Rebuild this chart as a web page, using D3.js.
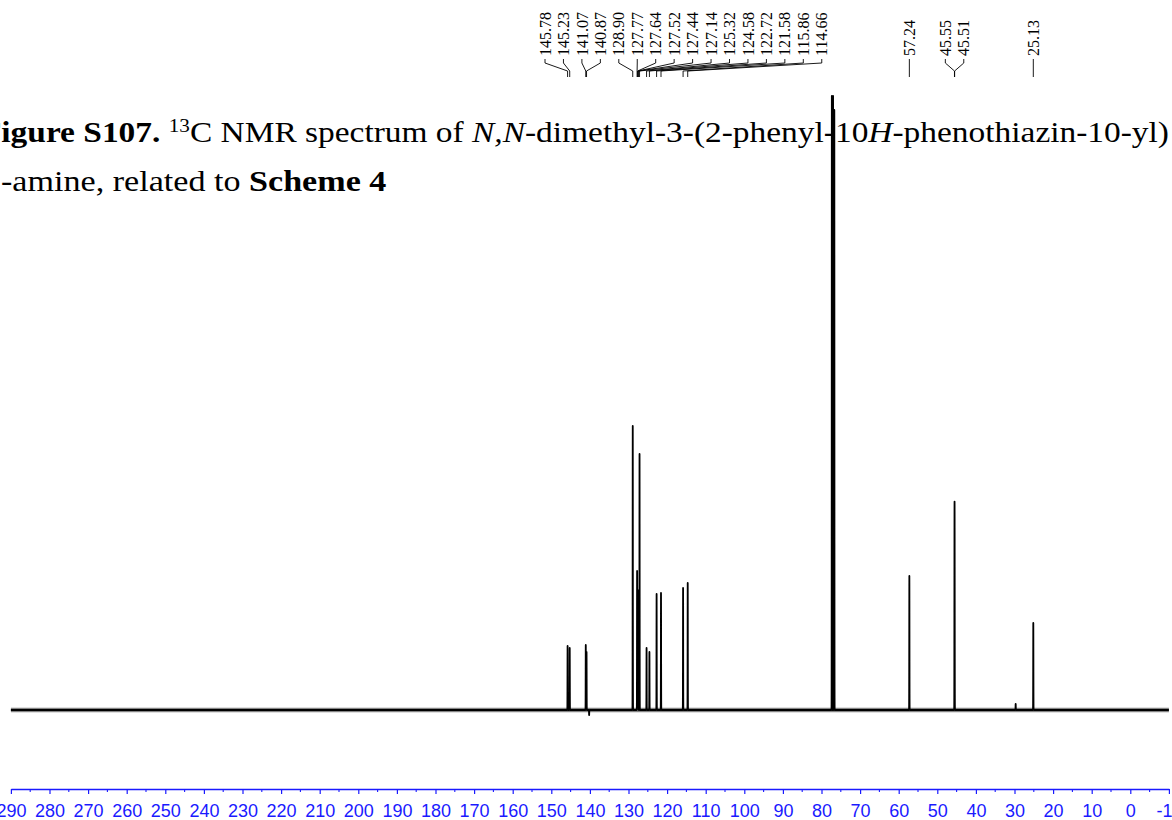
<!DOCTYPE html>
<html>
<head>
<meta charset="utf-8">
<script src="https://cdn.jsdelivr.net/npm/d3@7"></script>
<style>
html,body{margin:0;padding:0;background:#fff;overflow:hidden}
svg{display:block}
</style>
</head>
<body>
<svg id="chart" width="1172" height="820"></svg>
<script>
// ---------------- DATA ----------------
// peak positions (ppm) and heights (arbitrary intensity units)
const peakShifts  = [145.78, 145.23, 141.07, 140.87, 140.20, 128.90, 127.77, 127.64, 127.52, 127.44, 127.14,
                     125.32, 124.58, 122.72, 121.58, 115.86, 114.66, 77.32, 77.00, 76.68,
                     57.24, 45.55, 45.51, 29.70, 25.13];
const peakHeights = [64, 62, 65, 58, -5, 284, 139, 120, 110, 100, 256,
                     62, 58, 116, 117, 122, 127, 614, 614, 600,
                     134, 145, 142, 6, 87];
const noiseLevel = 2.2;   // half-height of the baseline noise band

// peak-pick labels (as printed) and their label groups
const labelGroupA = ["145.78","145.23","141.07","140.87","128.90","127.77","127.64","127.52","127.44","127.14",
                     "125.32","124.58","122.72","121.58","115.86","114.66"];
const labelGroupB = ["57.24"];
const labelGroupC = ["45.55","45.51"];
const labelGroupD = ["25.13"];

// axis ticks
const majorTicks = d3.range(290, -11, -10);
const minorTicks = d3.range(285, -10, -10);

// title text pieces
const titleLine1 = [
  {t:"Figure S107.", b:true}, {t:" "}, {t:"13", sup:true},
  {t:"C NMR spectrum of "}, {t:"N,N", i:true},
  {t:"-dimethyl-3-(2-phenyl-10"}, {t:"H", i:true}, {t:"-phenothiazin-10-yl)"}
];
const titleLine2 = [ {t:"-amine, related to "}, {t:"Scheme 4", b:true} ];

// ---------------- CHART ----------------
const svg = d3.select("#chart");

const x = d3.scaleLinear().domain([290, -10]).range([10.9, 1168.9]);
const y = d3.scaleLinear().domain([0, 614]).range([710, 96]);

// ---- title ----
const serif = "'Liberation Serif','Times New Roman',serif";
const titleSize = 30;
function buildLine(g, pieces, anchor){
  const t = g.append("text")
    .attr("font-family", serif).attr("font-size", titleSize).attr("fill", "#000")
    .attr("text-anchor", anchor);
  let prevSup = false;
  pieces.forEach(p => {
    const s = t.append("tspan").text(p.t);
    if (p.sup) { s.attr("font-size", 19).attr("dy", -10); }
    else if (prevSup) { s.attr("dy", 10); }
    if (p.b) s.attr("font-weight", "bold");
    if (p.i) s.attr("font-style", "italic");
    prevSup = !!p.sup;
  });
  return t;
}
// measure the clipped "F"
const tmp = svg.append("text").attr("font-family", serif).attr("font-size", titleSize)
  .attr("font-weight", "bold").text("F");
const wF = tmp.node().getComputedTextLength();
tmp.remove();

const g1 = svg.append("g");
const t1 = buildLine(g1, titleLine1, "end");
const W1 = t1.node().getComputedTextLength();
const sx1 = 1168 / (W1 - wF);
g1.attr("transform", `translate(1169,142) scale(${sx1},1)`);

const g2 = svg.append("g");
const t2 = buildLine(g2, titleLine2, "start");
const W2 = t2.node().getComputedTextLength();
const sx2 = 385.5 / W2;
g2.attr("transform", `translate(1,191) scale(${sx2},1)`);

// ---- spectrum ----
const sigma = 0.025;
function intensity(p){
  let s = 0;
  for (let i = 0; i < peakShifts.length; i++) {
    const z = (p - peakShifts[i]) / sigma;
    if (Math.abs(z) < 12) s += peakHeights[i] * Math.exp(-0.5 * z * z);
  }
  return s;
}
let grid = d3.range(290, -10.001, -0.25);
peakShifts.forEach(c => { grid = grid.concat(d3.range(c + 0.3, c - 0.3, -0.004)); });
grid.sort((a, b) => b - a);
const pts = grid.map(p => [p, intensity(p)]);

// baseline noise band
svg.append("path")
  .datum([290, -10])
  .attr("d", d3.area().x(d => x(d)).y0(y(-noiseLevel)).y1(y(noiseLevel)))
  .attr("fill", "#333").attr("opacity", 0.6);

svg.append("path")
  .datum(pts)
  .attr("d", d3.line().x(d => x(d[0])).y(d => y(d[1])))
  .attr("fill", "none").attr("stroke", "#000").attr("stroke-width", 1.8)
  .attr("stroke-linejoin", "round");

// ---- axis ----
const axisY = 789;
const axisColor = "#1a1aff";
const ax = svg.append("g").attr("transform", `translate(0,${axisY})`)
  .call(d3.axisBottom(x).tickValues(majorTicks).tickSize(5).tickSizeOuter(0).tickFormat(d => String(d)));
ax.select(".domain").attr("stroke", axisColor).attr("stroke-width", 1.3);
ax.selectAll(".tick line").attr("stroke", axisColor).attr("stroke-width", 1.2);
ax.selectAll(".tick text").attr("fill", axisColor).attr("y", 15)
  .attr("font-family", "'Liberation Sans',Arial,sans-serif").attr("font-size", 18);
ax.selectAll(".minor").data(minorTicks).enter().append("line").attr("class", "minor")
  .attr("x1", d => x(d)).attr("x2", d => x(d)).attr("y1", 0).attr("y2", 3)
  .attr("stroke", axisColor).attr("stroke-width", 1.1);

// ---- peak labels ----
const labG = svg.append("g");
const textBottom = 56;
function drawGroup(labels, lxFn){
  labels.forEach((lab, i) => {
    const ppm = +lab;
    const px = x(ppm);
    const lx = lxFn(i, px);
    labG.append("text")
      .attr("transform", `translate(${lx},${textBottom}) rotate(-90)`)
      .attr("dy", "0.35em")
      .attr("font-family", serif).attr("font-size", 16).attr("fill", "#000")
      .text(lab);
    const path = d3.path();
    path.moveTo(lx, textBottom + 3);
    path.lineTo(lx, 63);
    path.lineTo(px, 71);
    path.lineTo(px, 77);
    labG.append("path").attr("d", path.toString())
      .attr("fill", "none").attr("stroke", "#000").attr("stroke-width", 0.9);
  });
}
const spacing = 18.45;
drawGroup(labelGroupA, (i) => 545 + i * spacing);
drawGroup(labelGroupB, (i, px) => px);
const cMid = d3.mean(labelGroupC, d => x(+d));
drawGroup(labelGroupC, (i) => cMid + (i - (labelGroupC.length - 1) / 2) * spacing);
drawGroup(labelGroupD, (i, px) => px);
</script>
</body>
</html>
